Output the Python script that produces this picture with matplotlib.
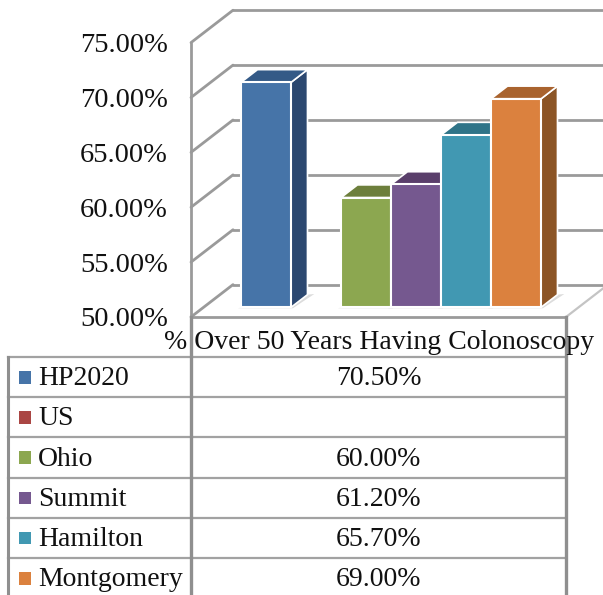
import numpy as np
import matplotlib
matplotlib.use('Agg')
import matplotlib.pyplot as plt
from matplotlib.patches import Rectangle

names = ['HP2020', 'US', 'Ohio', 'Summit', 'Hamilton', 'Montgomery']
values = [70.5, np.nan, 60.0, 61.2, 65.7, 69.0]
labels = ['70.50%', '', '60.00%', '61.20%', '65.70%', '69.00%']
yticks = [50, 55, 60, 65, 70, 75]
series_title = '% Over 50 Years Having Colonoscopy'

front = ['#4674A8', '#AA4644', '#8CA750', '#75588F', '#4198B2', '#DB813E']
side = ['#2C4870', '#6E2C2B', '#566832', '#47355A', '#2A6072', '#8C5526']
top = ['#345A87', '#883836', '#6D7F3C', '#5A3F6B', '#2F7488', '#A9632E']

W, H = 603, 595
GRID = '#9a9a9a'
plt.rcParams['font.family'] = ['Liberation Serif', 'DejaVu Serif']

fig = plt.figure(figsize=(W / 100, H / 100), dpi=100, facecolor='white')


def axes_px(x0, y0, x1, y1):
    return fig.add_axes([x0 / W, 1 - y1 / H, (x1 - x0) / W, (y1 - y0) / H])


# front plane of the fake 3d box
ax = axes_px(191, 42.6, 566, 317)
xmin, xmax = -1.25, 6.25
ax.set_xlim(xmin, xmax)
ax.set_ylim(50, 75)
ax.patch.set_alpha(0)
for s in ax.spines.values():
    s.set_visible(False)
ax.set_xticks([])
ax.set_yticks(yticks)
ax.set_yticklabels(['%.2f%%' % t for t in yticks], fontsize=20.5, color='#111111')
ax.tick_params(axis='y', length=0, pad=16.5)


def obl(x, y, d):
    # depth d goes 0 (front) to 1 (back wall)
    return x + 0.84 * d, y + 2.95 * d


def seg(p, q, **kw):
    ax.plot([p[0], q[0]], [p[1], q[1]], clip_on=False, solid_capstyle='round', **kw)


def poly(pts, color, z, ec='white', lw=1.3):
    xs, ys = zip(*pts)
    ax.fill(xs, ys, facecolor=color, edgecolor=ec, linewidth=lw, clip_on=False,
            zorder=z, joinstyle='round')


for t in yticks:
    seg(obl(xmin, t, 0), obl(xmin, t, 1), color=GRID, lw=2, zorder=1)
    seg(obl(xmin, t, 1), obl(xmax, t, 1), color=GRID, lw=2, zorder=1)
seg(obl(xmin, 50, 0), obl(xmin, 75, 0), color=GRID, lw=2, zorder=1)
seg(obl(xmin, 50, 0), obl(xmax, 50, 0), color=GRID, lw=2, zorder=1)
seg(obl(xmax, 50, 0), obl(xmax, 50, 1), color='#c4c4c4', lw=1.6, zorder=1)

d0, d1 = 0.3, 0.69
bw = 0.5
for i, v in enumerate(values):
    if np.isnan(v):
        continue
    l, r = i - bw, i + bw
    # soft floor shadow
    poly([obl(l - 0.04, 50, d0 - 0.03), obl(r + 0.06, 50, d0 - 0.03),
          obl(r + 0.12, 50, d1 + 0.02), obl(r, 50, d1)], '#dcdcdc', 2 + i * 0.1, ec='none', lw=0)
    poly([obl(r, 50, d0), obl(r, 50, d1), obl(r, v, d1), obl(r, v, d0)],
         side[i], 3 + i, lw=1.2)
    poly([obl(l, v, d0), obl(r, v, d0), obl(r, v, d1), obl(l, v, d1)],
         top[i], 3 + i, lw=1.2)
    poly([obl(l, 50, d0), obl(r, 50, d0), obl(r, v, d0), obl(l, v, d0)],
         front[i], 3.5 + i, lw=1.5)

# data table below the chart
row_h = 40.2
tb = axes_px(8, 357, 566, 357 + row_h * len(names))
tb.set_xlim(8, 566)
tb.set_ylim(len(names), 0)
tb.axis('off')
tb.patch.set_alpha(0)
for r in range(len(names) + 1):
    tb.plot([8, 566], [r, r], color='#a2a2a2', lw=1.6, clip_on=False, zorder=1)
tb.plot([8, 8], [0, len(names)], color='#8f8f8f', lw=2.2, clip_on=False, zorder=1)
tb.plot([191, 191], [-1, len(names)], color='#8f8f8f', lw=2.4, clip_on=False, zorder=1)
tb.plot([566, 566], [-1, len(names)], color='#8f8f8f', lw=2.4, clip_on=False, zorder=1)

for i, name in enumerate(names):
    tb.add_patch(Rectangle((18.5, i + 0.35), 12.5, 0.31, facecolor=front[i],
                           edgecolor='none', zorder=2))
    tb.text(38, i + 0.54, name, fontsize=20, va='center', ha='left', color='#111111', zorder=3)
    if labels[i]:
        tb.text(378.5, i + 0.54, labels[i], fontsize=20, va='center', ha='center',
                color='#111111', zorder=3)
tb.text(379, -0.36, series_title, fontsize=20, va='center', ha='center', color='#111111',
        clip_on=False, zorder=3)

fig.savefig('out.png', dpi=100)
